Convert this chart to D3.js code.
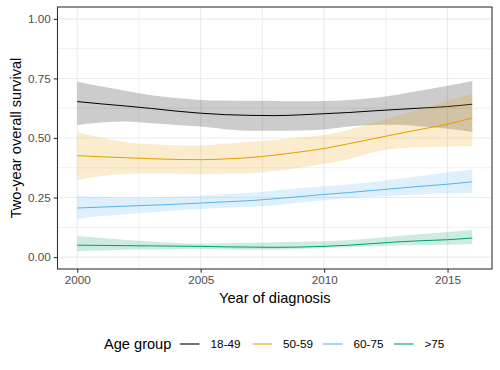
<!DOCTYPE html>
<html>
<head>
<meta charset="utf-8">
<script src="https://cdn.jsdelivr.net/npm/d3@7"></script>
<style>
  body { margin: 0; background: #fff; }
  text { font-family: "Liberation Sans", Arial, sans-serif; }
</style>
</head>
<body>
<script>
// data (smoothed fit + 95% band per age group)
const years = [2000, 2001, 2002, 2003, 2004, 2005, 2006, 2007, 2008, 2009, 2010, 2011, 2012, 2013, 2014, 2015, 2016]
const groups = ["18-49", "50-59", "60-75", ">75"]
const colors = ["#000000", "#E69F00", "#56B4E9", "#009E73"]

const fit_18_49 = [.653, .643, .634, .624, .613, .604, .598, .595, .594, .597, .602, .607, .614, .620, .626, .632, .642]
const lo_18_49  = [.555, .565, .569, .562, .555, .548, .537, .530, .530, .532, .536, .548, .555, .556, .548, .539, .525]
const hi_18_49  = [.736, .716, .697, .680, .668, .660, .657, .656, .655, .654, .655, .660, .668, .683, .700, .719, .739]

const fit_50_59 = [.426, .421, .417, .413, .410, .409, .412, .418, .428, .441, .456, .476, .497, .518, .538, .558, .584]
const lo_50_59  = [.324, .340, .349, .351, .350, .349, .350, .352, .362, .375, .392, .411, .440, .457, .461, .464, .466]
const hi_50_59  = [.524, .500, .482, .474, .470, .469, .476, .483, .492, .502, .513, .535, .565, .594, .625, .656, .687]

const fit_60_75 = [.206, .210, .214, .218, .222, .227, .232, .237, .245, .254, .263, .271, .280, .289, .298, .306, .316]
const lo_60_75  = [.161, .172, .180, .188, .196, .202, .207, .211, .217, .229, .239, .247, .253, .259, .264, .268, .268]
const hi_60_75  = [.258, .252, .250, .251, .254, .258, .264, .270, .280, .289, .297, .305, .315, .328, .342, .356, .368]

const fit_75 = [.050, .049, .048, .047, .046, .045, .043, .042, .041, .042, .045, .050, .057, .064, .069, .073, .080]
const lo_75  = [.025, .028, .031, .032, .033, .034, .032, .031, .031, .034, .038, .041, .046, .049, .051, .052, .055]
const hi_75  = [.087, .080, .072, .065, .059, .056, .058, .060, .062, .064, .066, .072, .079, .089, .097, .105, .115]

const xTicks = [2000, 2005, 2010, 2015]
const yTicks = [0, 0.25, 0.5, 0.75, 1]

const series = [
  {fit: fit_18_49, lo: lo_18_49, hi: hi_18_49},
  {fit: fit_50_59, lo: lo_50_59, hi: hi_50_59},
  {fit: fit_60_75, lo: lo_60_75, hi: hi_60_75},
  {fit: fit_75, lo: lo_75, hi: hi_75}
]

var width = 500, height = 370
var panel = {left: 57.5, right: 492, top: 7, bottom: 269}

let svg = d3.select("body").append("svg").attr("width", width).attr("height", height)

// ggplot style 5% expansion
var x = d3.scaleLinear().domain([2000 - 0.8, 2016 + 0.8]).range([panel.left, panel.right])
var y = d3.scaleLinear().domain([-0.05, 1.05]).range([panel.bottom, panel.top])

// grid
var g = svg.append("g")
var xMinor = [2002.5, 2007.5, 2012.5]
var yMinor = [0.125, 0.375, 0.625, 0.875]
g.selectAll(".xminor").data(xMinor).enter().append("line")
  .attr("x1", d => x(d)).attr("x2", d => x(d)).attr("y1", panel.top).attr("y2", panel.bottom)
  .attr("stroke", "#EBEBEB").attr("stroke-width", 0.8)
g.selectAll(".yminor").data(yMinor).enter().append("line")
  .attr("y1", d => y(d)).attr("y2", d => y(d)).attr("x1", panel.left).attr("x2", panel.right)
  .attr("stroke", "#EBEBEB").attr("stroke-width", 0.8)
g.selectAll(".xmajor").data(xTicks).enter().append("line")
  .attr("x1", d => x(d)).attr("x2", d => x(d)).attr("y1", panel.top).attr("y2", panel.bottom)
  .attr("stroke", "#EBEBEB").attr("stroke-width", 1.1)
g.selectAll(".ymajor").data(yTicks).enter().append("line")
  .attr("y1", d => y(d)).attr("y2", d => y(d)).attr("x1", panel.left).attr("x2", panel.right)
  .attr("stroke", "#EBEBEB").attr("stroke-width", 1.1)

// ribbons + lines, group by group like geom_smooth
var area = d3.area().x((d, i) => x(years[i])).y0(d => y(d[0])).y1(d => y(d[1])).curve(d3.curveMonotoneX)
var line = d3.line().x((d, i) => x(years[i])).y(d => y(d)).curve(d3.curveMonotoneX)

series.forEach(function(s, k) {
  var band = s.lo.map((v, i) => [v, s.hi[i]])
  svg.append("path").attr("d", area(band))
    .attr("fill", colors[k]).attr("fill-opacity", 0.2)
  svg.append("path").attr("d", line(s.fit))
    .attr("fill", "none").attr("stroke", colors[k]).attr("stroke-width", 1)
})

// panel border
svg.append("rect").attr("x", panel.left).attr("y", panel.top)
  .attr("width", panel.right - panel.left).attr("height", panel.bottom - panel.top)
  .attr("fill", "none").attr("stroke", "#333333").attr("stroke-width", 1.1)

// axes
var xAxis = svg.append("g").attr("transform", "translate(0," + panel.bottom + ")")
  .call(d3.axisBottom(x).tickValues(xTicks).tickFormat(d3.format("d")).tickSize(3.7).tickPadding(3))
var yAxis = svg.append("g").attr("transform", "translate(" + panel.left + ",0)")
  .call(d3.axisLeft(y).tickValues(yTicks).tickFormat(d3.format(".2f")).tickSize(3.7).tickPadding(3))

;[xAxis, yAxis].forEach(function(a) {
  a.select(".domain").remove()
  a.selectAll(".tick line").attr("stroke", "#333333").attr("stroke-width", 1.1)
  a.selectAll(".tick text").attr("fill", "#4D4D4D").style("font-size", "11.7px")
    .style("font-family", "'Liberation Sans', Arial, sans-serif")
})

// axis titles
svg.append("text").attr("x", (panel.left + panel.right) / 2).attr("y", 302.5)
  .attr("text-anchor", "middle").style("font-size", "14.6px").text("Year of diagnosis")
svg.append("text").attr("transform", "translate(20.5," + (panel.top + panel.bottom) / 2 + ") rotate(-90)")
  .attr("text-anchor", "middle").style("font-size", "14.6px").text("Two-year overall survival")

// legend
var legY = 344
svg.append("text").attr("x", 104).attr("y", legY).attr("dy", "0.35em")
  .style("font-size", "14.6px").text("Age group")
var keyX = [180, 252.5, 323, 394]
groups.forEach(function(name, k) {
  svg.append("line").attr("x1", keyX[k]).attr("x2", keyX[k] + 19.5)
    .attr("y1", legY).attr("y2", legY)
    .attr("stroke", colors[k]).attr("stroke-width", 1.1)
  svg.append("text").attr("x", keyX[k] + 30.5).attr("y", legY).attr("dy", "0.35em")
    .style("font-size", "11.7px").text(name)
})
</script>
</body>
</html>
